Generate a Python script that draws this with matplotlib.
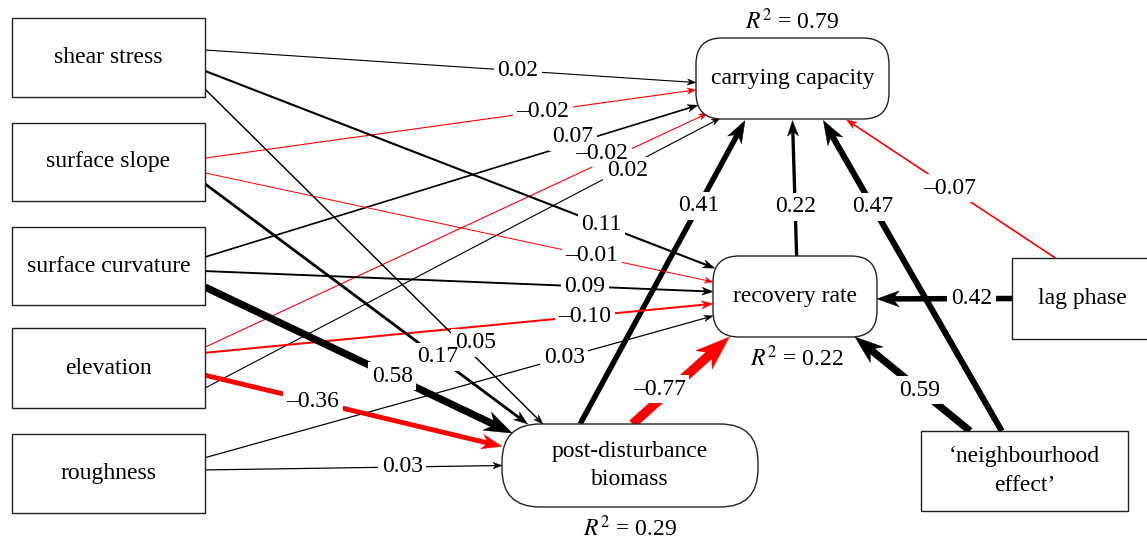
import numpy as np
import matplotlib
matplotlib.use("Agg")
import matplotlib.pyplot as plt
from matplotlib.patches import FancyBboxPatch, Rectangle, Polygon

plt.rcParams['font.family'] = ['Liberation Serif', 'DejaVu Serif']
plt.rcParams['mathtext.fontset'] = 'stix'

# ---------------- data ----------------
node_keys = ['shear', 'slope', 'curv', 'elev', 'rough', 'cc', 'rr', 'pdb', 'lag', 'neigh']
node_labels = ['shear stress', 'surface slope', 'surface curvature', 'elevation', 'roughness',
               'carrying capacity', 'recovery rate', 'post-disturbance\nbiomass', 'lag phase',
               '\u2018neighbourhood\neffect\u2019']
r2_nodes = ['cc', 'rr', 'pdb']
r2_values = [0.79, 0.22, 0.29]

edge_src = ['shear', 'slope', 'curv', 'elev', 'elev', 'pdb', 'rr', 'neigh', 'lag',
            'shear', 'slope', 'curv', 'elev', 'rough', 'lag', 'neigh', 'pdb',
            'shear', 'slope', 'curv', 'elev', 'rough']
edge_dst = ['cc'] * 9 + ['rr'] * 8 + ['pdb'] * 5
coefs = [0.02, -0.02, 0.07, -0.02, 0.02, 0.41, 0.22, 0.47, -0.07,
         0.11, -0.01, 0.09, -0.10, 0.03, 0.42, 0.59, -0.77,
         0.05, 0.17, 0.58, -0.36, 0.03]

# ---------------- layout (pixel units) ----------------
node_box = {
    'shear': (12, 18, 205, 97), 'slope': (12, 123, 205, 201), 'curv': (12, 227, 205, 305),
    'elev': (12, 328, 205, 408), 'rough': (12, 434, 205, 513),
    'cc': (696, 38, 889, 119), 'rr': (713, 256, 877, 337), 'pdb': (502, 424, 758, 507),
    'lag': (1012, 258, 1152, 339), 'neigh': (921, 431, 1128, 511),
}
node_round = {'cc': 26, 'rr': 26, 'pdb': 38}
r2_pos = {'cc': (0.5, -17), 'rr': (0.51, 21), 'pdb': (0.5, 21)}  # (x frac, offset from top/bottom)

src_anchor = [(1, 0.405), (1, 0.45), (1, 0.385), (1, 0.24), (1, 0.75), (0.305, 0), (0.51, 0), (0.39, 0), (0.31, 0),
              (1, 0.67), (1, 0.64), (1, 0.565), (1, 0.31), (1, 0.30), (0, 0.5), (0.237, 0), (0.51, 0),
              (1, 0.90), (1, 0.78), (1, 0.77), (1, 0.59), (1, 0.455)]
dst_anchor = [(0, 0.55), (0, 0.64), (0.01, 0.83), (0.06, 0.93), (0.125, 0.99), (0.254, 1.02), (0.5, 1.02), (0.66, 1.02), (0.78, 1.01),
              (0.01, 0.15), (0, 0.32), (0, 0.44), (0, 0.59), (0, 0.74), (1, 0.53), (0.866, 1.0), (0.10, 1.0),
              (0.16, 0), (0.10, 0), (0.04, 0.11), (0, 0.27), (0, 0.5)]
label_t = [0.637, 0.688, 0.746, 0.79, 0.82, 0.72, 0.363, 0.723, 0.505,
           0.778, 0.762, 0.748, 0.748, 0.707, 0.30, 0.435, 0.40,
           0.77, 0.72, 0.61, 0.363, 0.664]
label_off = {2: (0, -7), 3: (0, -9), 4: (0, 4), 16: (-12, 0), 17: (10, -4)}

FS = 17

fig = plt.figure(figsize=(11.47, 5.39), dpi=100)
ax = fig.add_axes([0, 0, 1, 1])
ax.set_xlim(0, 1147)
ax.set_ylim(539, 0)
ax.axis('off')


def anchor_point(key, a):
    x0, y0, x1, y1 = node_box[key]
    return x0 + a[0] * (x1 - x0), y0 + a[1] * (y1 - y0)


def draw_arrow(p0, p1, c):
    color = 'black' if c >= 0 else '#ff0000'
    lw_px = 0.9 + 11 * abs(c)
    L = 8 + 34 * abs(c)
    W = 0.72 * L
    p0 = np.array(p0, float)
    p1 = np.array(p1, float)
    d = p1 - p0
    d /= np.hypot(*d)
    n = np.array([-d[1], d[0]])
    lend = p1 - d * 0.7 * L
    ax.plot([p0[0], lend[0]], [p0[1], lend[1]], color=color, lw=lw_px * 0.72,
            solid_capstyle='butt', zorder=2)
    poly = [p1, p1 - d * L + n * W / 2, p1 - d * 0.7 * L, p1 - d * L - n * W / 2]
    ax.add_patch(Polygon(poly, closed=True, fc=color, ec=color, lw=0.3, zorder=2))


for i, (s, t, c) in enumerate(zip(edge_src, edge_dst, coefs)):
    p0 = anchor_point(s, src_anchor[i])
    p1 = anchor_point(t, dst_anchor[i])
    draw_arrow(p0, p1, c)
    tt = label_t[i]
    lx = p0[0] + tt * (p1[0] - p0[0])
    ly = p0[1] + tt * (p1[1] - p0[1])
    dx, dy = label_off.get(i, (0, 0))
    txt = ('%.2f' % abs(c))
    if c < 0:
        txt = '\u2013' + txt
    # white knock-out behind the label (below all label glyphs)
    ax.text(lx + dx, ly + dy, txt, fontsize=FS, ha='center', va='center', zorder=3,
            color='none', bbox=dict(boxstyle='square,pad=0.15', fc='white', ec='none'))
    ax.text(lx + dx, ly + dy, txt, fontsize=FS, ha='center', va='center', zorder=3.5)

for key, lab in zip(node_keys, node_labels):
    x0, y0, x1, y1 = node_box[key]
    if key in node_round:
        patch = FancyBboxPatch((x0, y0), x1 - x0, y1 - y0,
                               boxstyle='round,pad=0,rounding_size=%g' % node_round[key],
                               fc='white', ec='#222222', lw=1.0, zorder=4)
    else:
        patch = Rectangle((x0, y0), x1 - x0, y1 - y0, fc='white', ec='#222222', lw=1.0, zorder=4)
    ax.add_patch(patch)
    ax.text((x0 + x1) / 2, (y0 + y1) / 2, lab, fontsize=FS, ha='center', va='center',
            linespacing=1.45, zorder=5)

for key, v in zip(r2_nodes, r2_values):
    x0, y0, x1, y1 = node_box[key]
    fx, off = r2_pos[key]
    y = y0 + off if off < 0 else y1 + off
    ax.text(x0 + fx * (x1 - x0), y, r'$R^2$ = %.2f' % v, fontsize=FS, ha='center', va='center', zorder=5)

fig.savefig('out.png', dpi=100)
